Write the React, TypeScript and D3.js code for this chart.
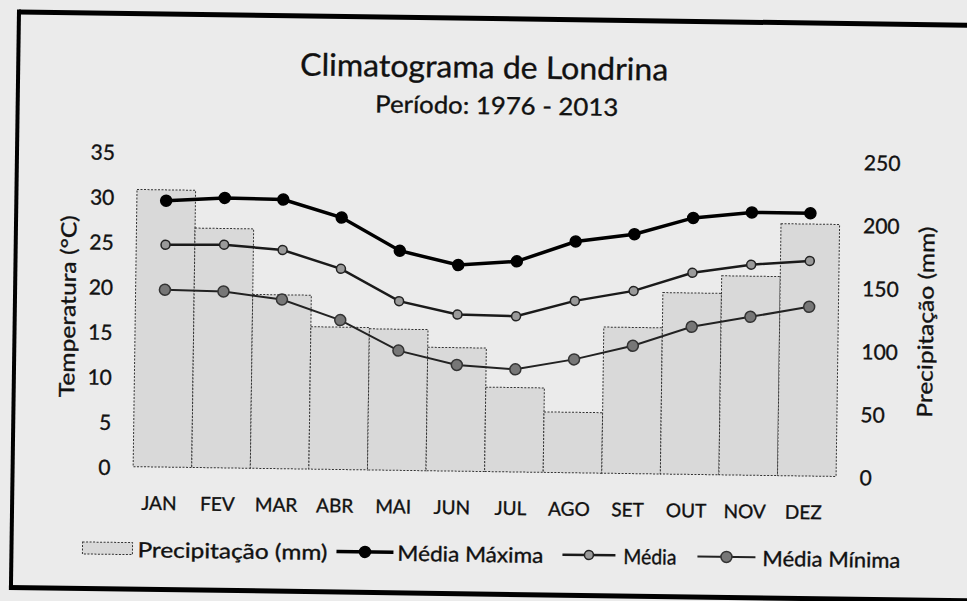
import React from "react";
import * as d3 from "d3";

const months = ["JAN", "FEV", "MAR", "ABR", "MAI", "JUN", "JUL", "AGO", "SET", "OUT", "NOV", "DEZ"];
const precipitation = [220, 190, 138, 113, 112, 98, 67, 48, 116, 144, 158, 200];
const tempMax = [29.6, 30.0, 29.9, 28.0, 24.4, 22.9, 23.4, 25.7, 26.6, 28.5, 29.2, 29.2];
const tempMean = [24.7, 24.8, 24.3, 22.3, 18.8, 17.4, 17.3, 19.1, 20.3, 22.4, 23.4, 23.9];
const tempMin = [19.7, 19.6, 18.8, 16.6, 13.3, 11.8, 11.4, 12.6, 14.2, 16.4, 17.6, 18.8];
const tempTicks = [0, 5, 10, 15, 20, 25, 30, 35];
const precipTicks = [0, 50, 100, 150, 200, 250];

const W = 967;
const H = 601;
const FONT = "Lato, 'Open Sans', sans-serif";
const INK = "#111";
const TS = { fill: INK, stroke: INK, strokeWidth: 0.35 };

export default function App() {
  const x = d3.scaleBand<string>().domain(months).range([135.5, 838.5]).padding(0);
  const yT = d3.scaleLinear().domain([0, 35]).range([471.5, 156.5]);
  const yP = d3.scaleLinear().domain([0, 250]).range([471.5, 156.5]);
  const cx = (i: number) => (x(months[i]) as number) + x.bandwidth() / 2;
  const line = d3
    .line<number>()
    .x((_, i) => cx(i))
    .y((v) => yT(v));

  const series = [
    { name: "Média Máxima", data: tempMax, stroke: "#000", sw: 3.5, r: 5.5, fill: "#000", ms: "#000" },
    { name: "Média", data: tempMean, stroke: "#1a1a1a", sw: 2.5, r: 4.5, fill: "#9a9a9a", ms: "#222" },
    { name: "Média Mínima", data: tempMin, stroke: "#222", sw: 2, r: 5.5, fill: "#777", ms: "#333" },
  ];

  const legendY = 553.5;
  const legendLines = [
    { x0: 340, x1: 397, tx: 401, tw: 146 },
    { x0: 566, x1: 619, tx: 627, tw: 53 },
    { x0: 701, x1: 759, tx: 766, tw: 138 },
  ];

  return (
    <div style={{ position: "fixed", left: 0, top: 0, width: W, height: H }}>
      <svg width={W} height={H} style={{ display: "block" }}>
        <rect x={0} y={0} width={W} height={H} fill="#ebebeb" />
        <g transform="rotate(0.8 483 300)">
          {/* frame */}
          <line x1={15} x2={1010} y1={18.5} y2={18.5} stroke="#000" strokeWidth={5} />
          <line x1={15} x2={15} y1={16} y2={596} stroke="#000" strokeWidth={4} />
          <line x1={13} x2={1010} y1={594} y2={594} stroke="#000" strokeWidth={5} />

          {/* titles */}
          <text x={481} y={78} textAnchor="middle" fontFamily={FONT} fontSize={31} {...TS}
            textLength={368} lengthAdjust="spacingAndGlyphs">Climatograma de Londrina</text>
          <text x={494} y={114} textAnchor="middle" fontFamily={FONT} fontSize={24} {...TS}
            textLength={243} lengthAdjust="spacingAndGlyphs">Período: 1976 - 2013</text>

          {/* bars */}
          {precipitation.map((v, i) => (
            <rect key={months[i]} x={x(months[i])} y={yP(v)} width={x.bandwidth()} height={yP(0) - yP(v)}
              fill="#d9d9d9" stroke="#333" strokeWidth={1} strokeDasharray="2 1.5" />
          ))}

          {/* lines */}
          {series.map((s) => (
            <g key={s.name}>
              <path d={line(s.data) as string} fill="none" stroke={s.stroke} strokeWidth={s.sw} />
              {s.data.map((v, i) => (
                <circle key={i} cx={cx(i)} cy={yT(v)} r={s.r} fill={s.fill} stroke={s.ms} strokeWidth={1.5} />
              ))}
            </g>
          ))}

          {/* left axis labels */}
          {tempTicks.map((t) => (
            <text key={t} x={113} y={yT(t)} textAnchor="end" dominantBaseline="central" fontFamily={FONT}
              fontSize={21} {...TS}>{t}</text>
          ))}
          {/* right axis labels */}
          {precipTicks.map((t) => (
            <text key={t} x={862} y={yP(t)} textAnchor="start" dominantBaseline="central" fontFamily={FONT}
              fontSize={21} {...TS}>{t}</text>
          ))}
          {/* month labels */}
          {months.map((m, i) => (
            <text key={m} x={cx(i) - 3} y={507} textAnchor="middle" dominantBaseline="central" fontFamily={FONT}
              fontSize={19} {...TS}>{m}</text>
          ))}

          {/* axis titles */}
          <text transform="translate(67 312) rotate(-90)" textAnchor="middle" dominantBaseline="central"
            fontFamily={FONT} fontSize={21} {...TS} textLength={182} lengthAdjust="spacingAndGlyphs">Temperatura (°C)</text>
          <text transform="translate(925 316) rotate(-90)" textAnchor="middle" dominantBaseline="central"
            fontFamily={FONT} fontSize={21} {...TS} textLength={191} lengthAdjust="spacingAndGlyphs">Precipitação (mm)</text>

          {/* legend */}
          <rect x={86} y={legendY - 6} width={50} height={12} fill="#d9d9d9" stroke="#333" strokeWidth={1}
            strokeDasharray="2 1.5" />
          <text x={141} y={legendY} dominantBaseline="central" fontFamily={FONT} fontSize={21} {...TS}
            textLength={190} lengthAdjust="spacingAndGlyphs">Precipitação (mm)</text>
          {series.map((s, k) => {
            const L = legendLines[k];
            return (
              <g key={s.name}>
                <line x1={L.x0} x2={L.x1} y1={legendY} y2={legendY} stroke={s.stroke} strokeWidth={s.sw} />
                <circle cx={(L.x0 + L.x1) / 2} cy={legendY} r={s.r} fill={s.fill} stroke={s.ms} strokeWidth={1.5} />
                <text x={L.tx} y={legendY} dominantBaseline="central" fontFamily={FONT} fontSize={21} {...TS}
                  textLength={L.tw} lengthAdjust="spacingAndGlyphs">{s.name}</text>
              </g>
            );
          })}
        </g>
      </svg>
    </div>
  );
}
